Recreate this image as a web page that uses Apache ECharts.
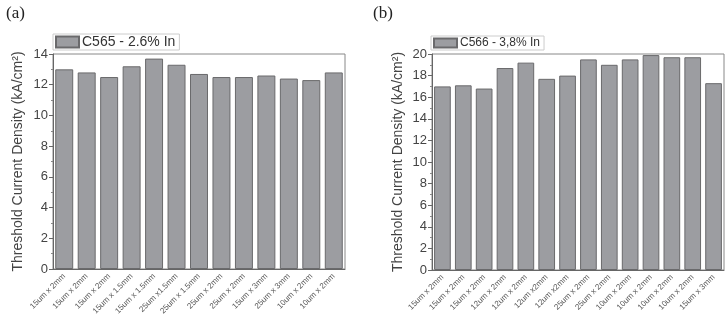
<!DOCTYPE html>
<html>
<head>
<meta charset="utf-8">
<script src="https://cdn.jsdelivr.net/npm/echarts@6/dist/echarts.min.js"></script>
<style>
  html, body { margin: 0; padding: 0; background: #fff; }
  #chart { width: 725px; height: 320px; }
</style>
</head>
<body>
<div id="chart"></div>
<script>
// panel (a) data
const catsA = ['15um x 2mm', '15um x 2mm', '15um x 2mm', '15um x 1.5mm', '15um x 1.5mm', '25um x1.5mm',
  '25um x 1.5mm', '25um x 2mm', '25um x 2mm', '15um x 3mm', '25um x 3mm', '10um x 2mm', '10um x 2mm'];
const valsA = [13.0, 12.8, 12.5, 13.2, 13.7, 13.3, 12.7, 12.5, 12.5, 12.6, 12.4, 12.3, 12.8];
const nameA = 'C565 - 2.6% In';

// panel (b) data
const catsB = ['15um x 2mm', '15um x 2mm', '15um x 2mm', '12um x 2mm', '12um x 2mm', '12um x2mm', '12um x2mm',
  '25um x 2mm', '25um x 2mm', '10um x 2mm', '10um x 2mm', '10um x 2mm', '10um x 2mm', '15um x 3mm'];
const valsB = [17.0, 17.1, 16.8, 18.7, 19.2, 17.7, 18.0, 19.5, 19.0, 19.5, 19.9, 19.7, 19.7, 17.3];
const nameB = 'C566 - 3,8% In';

const yTitle = 'Threshold Current Density (kA/cm²)';

const chart = echarts.init(document.getElementById('chart'));

function xAxisFor(idx, cats) {
  return {
    type: 'category',
    gridIndex: idx,
    data: cats,
    axisLine: { lineStyle: { color: '#666', width: 1 } },
    axisTick: { alignWithLabel: true, length: 4, lineStyle: { color: '#666' } },
    axisLabel: { rotate: 45, fontSize: 8, color: '#555', margin: 6, interval: 0, fontFamily: 'Liberation Sans' }
  };
}

function yAxisFor(idx, max, gap) {
  return {
    type: 'value',
    gridIndex: idx,
    min: 0,
    max: max,
    interval: 2,
    name: yTitle,
    nameLocation: 'middle',
    nameGap: gap,
    nameTextStyle: { fontSize: 14, color: '#444', fontFamily: 'Liberation Sans' },
    axisLine: { show: true, lineStyle: { color: '#666' } },
    axisTick: { show: true, length: 4, lineStyle: { color: '#666' } },
    minorTick: { show: true, splitNumber: 2, length: 2, lineStyle: { color: '#888' } },
    splitLine: { show: false },
    axisLabel: { fontSize: 13, color: '#444', margin: 5, fontFamily: 'Liberation Sans' }
  };
}

const barStyle = { color: '#9c9da1', borderColor: '#6a6a6c', borderWidth: 1 };

const option = {
  animation: false,
  title: [
    { text: '(a)', left: 1, top: 0, textStyle: { fontFamily: 'Liberation Serif', fontSize: 17, fontWeight: 'normal', color: '#222' } },
    { text: '(b)', left: 368, top: 0, textStyle: { fontFamily: 'Liberation Serif', fontSize: 17, fontWeight: 'normal', color: '#222' } }
  ],
  legend: [
    {
      data: [{ name: nameA, icon: 'rect' }], left: 53, top: 34, padding: [1, 4, 1, 2],
      itemWidth: 23, itemHeight: 11, itemGap: 0,
      borderColor: '#ccc', borderWidth: 1,
      textStyle: { fontSize: 14, color: '#333', fontFamily: 'Liberation Sans', padding: [0, 0, 0, -2] }
    },
    {
      data: [{ name: nameB, icon: 'rect' }], left: 431, top: 36, padding: [1, 4, 1, 2],
      itemWidth: 23, itemHeight: 9, itemGap: 0,
      borderColor: '#ccc', borderWidth: 1,
      textStyle: { fontSize: 12, color: '#333', fontFamily: 'Liberation Sans', padding: [0, 0, 0, -2] }
    }
  ],
  grid: [
    { left: 53, top: 54, width: 292, height: 215, show: true, borderColor: '#888', borderWidth: 1, backgroundColor: 'transparent' },
    { left: 432, top: 54, width: 292, height: 216, show: true, borderColor: '#888', borderWidth: 1, backgroundColor: 'transparent' }
  ],
  xAxis: [xAxisFor(0, catsA), xAxisFor(1, catsB)],
  yAxis: [yAxisFor(0, 14, 28), yAxisFor(1, 20, 27)],
  series: [
    { name: nameA, type: 'bar', xAxisIndex: 0, yAxisIndex: 0, data: valsA, barCategoryGap: '20%', itemStyle: barStyle },
    { name: nameB, type: 'bar', xAxisIndex: 1, yAxisIndex: 1, data: valsB, barCategoryGap: '20%', itemStyle: barStyle }
  ]
};

chart.setOption(option);
</script>
</body>
</html>
